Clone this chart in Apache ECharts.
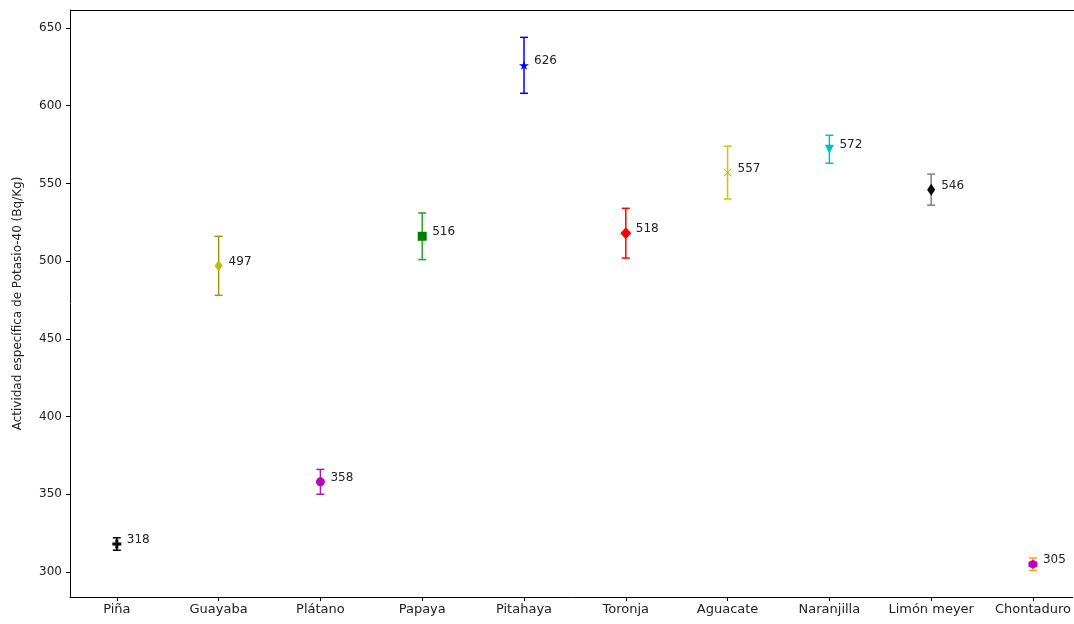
<!DOCTYPE html>
<html>
<head>
<meta charset="utf-8">
<script src="https://cdn.jsdelivr.net/npm/echarts@6/dist/echarts.min.js"></script>
<style>
  html, body { margin: 0; padding: 0; background: #fff; }
  #chart { width: 1074px; height: 624px; }
</style>
</head>
<body>
<div id="chart"></div>
<script>
// Actividad específica de K-40 por fruta, con su incertidumbre
const categories = ['Piña', 'Guayaba', 'Plátano', 'Papaya', 'Pitahaya', 'Toronja', 'Aguacate', 'Naranjilla', 'Limón meyer', 'Chontaduro'];
const values = [318, 497, 358, 516, 626, 518, 557, 572, 546, 305];
const errors = [4, 19, 8, 15, 18, 16, 17, 9, 10, 4];
const yTicks = [300, 350, 400, 450, 500, 550, 600, 650];

// Estilo de cada punto: color del marcador, color de la barra de error, forma
const markerColors = ['#000000', '#bfbf00', '#bf00bf', '#008000', '#0000ff', '#ff0000', '#bfbf00', '#00bfbf', '#000000', '#bf00bf'];
const barColors = ['#000000', '#9a9a10', '#a020a8', '#2ca02c', '#0000ff', '#ff0000', '#c8c800', '#00bfbf', '#808080', '#ffa500'];
const shapes = {
  plus: 'path://M4,0H8V4H12V8H8V12H4V8H0V4H4Z',
  star: 'path://M10,0L12.25,6.91L19.51,6.91L13.63,11.18L15.88,18.09L10,13.82L4.12,18.09L6.37,11.18L0.49,6.91L7.75,6.91Z',
  xmark: 'path://M0,1L1,0L6,5L11,0L12,1L7,6L12,11L11,12L6,7L1,12L0,11L5,6Z',
  hexagon: 'path://M6,0L11.2,3L11.2,9L6,12L0.8,9L0.8,3Z',
  triDown: 'path://M0,0L12,0L6,11Z'
};
const markerShapes = [shapes.plus, 'diamond', 'circle', 'rect', shapes.star, 'diamond', shapes.xmark, shapes.triDown, 'diamond', shapes.hexagon];
const markerSizes = [[9, 9], [8, 11], [9, 9], [9, 9], [10, 9], [11, 12], [8, 8], [9, 9], [8, 12], [9, 9]];

const idx = categories.map((_, i) => i);

const errorData = idx.map(i => [i, values[i] - errors[i], values[i] + errors[i], values[i]]);
const pointData = idx.map(i => ({
  value: [i, values[i]],
  symbol: markerShapes[i],
  symbolSize: markerSizes[i],
  itemStyle: { color: markerColors[i], opacity: 1 }
}));

const chart = echarts.init(document.getElementById('chart'));

chart.setOption({
  animation: false,
  backgroundColor: '#ffffff',
  textStyle: { fontFamily: 'DejaVu Sans' },
  grid: { left: 70, top: 10, right: 0, bottom: 27, containLabel: false },
  xAxis: {
    type: 'value',
    min: -0.46,
    max: 9.39,
    splitLine: { show: false },
    axisLine: { onZero: false, lineStyle: { color: '#000', width: 1 } },
    axisTick: { show: true, length: 4, inside: false, customValues: idx, lineStyle: { color: '#000' } },
    axisLabel: {
      customValues: idx,
      margin: 6,
      color: '#222',
      fontSize: 13,
      fontFamily: 'DejaVu Sans',
      formatter: v => categories[Math.round(v)]
    }
  },
  yAxis: {
    type: 'value',
    min: 283.9,
    max: 661.6,
    name: 'Actividad específica de Potasio-40 (Bq/Kg)',
    nameLocation: 'middle',
    nameGap: 46,
    nameTextStyle: { color: '#222', fontSize: 12, fontFamily: 'DejaVu Sans' },
    splitLine: { show: false },
    axisLine: { show: true, onZero: false, lineStyle: { color: '#000', width: 1 } },
    axisTick: { show: true, length: 4, customValues: yTicks, lineStyle: { color: '#000' } },
    axisLabel: { customValues: yTicks, margin: 8, color: '#222', fontSize: 12, fontFamily: 'DejaVu Sans' }
  },
  graphic: [{
    type: 'line',
    shape: { x1: 70, y1: 10.5, x2: 1074, y2: 10.5 },
    style: { stroke: '#000', lineWidth: 1 },
    silent: true
  }],
  series: [
    {
      type: 'custom',
      data: errorData,
      z: 2,
      renderItem: (params, api) => {
        const i = params.dataIndex;
        const lo = api.coord([api.value(0), api.value(1)]);
        const hi = api.coord([api.value(0), api.value(2)]);
        const mid = api.coord([api.value(0), api.value(3)]);
        const cap = 4;
        const st = { stroke: barColors[i], lineWidth: 1.5 };
        return {
          type: 'group',
          children: [
            { type: 'line', shape: { x1: lo[0], y1: lo[1], x2: hi[0], y2: hi[1] }, style: st },
            { type: 'line', shape: { x1: lo[0] - cap, y1: lo[1], x2: lo[0] + cap, y2: lo[1] }, style: st },
            { type: 'line', shape: { x1: hi[0] - cap, y1: hi[1], x2: hi[0] + cap, y2: hi[1] }, style: st },
            {
              type: 'text',
              style: {
                x: mid[0] + 10, y: mid[1] + 2,
                text: String(values[i]),
                fill: '#222',
                font: '12px "DejaVu Sans"',
                align: 'left',
                verticalAlign: 'bottom'
              }
            }
          ]
        };
      }
    },
    {
      type: 'scatter',
      z: 3,
      data: pointData
    }
  ]
});
</script>
</body>
</html>
